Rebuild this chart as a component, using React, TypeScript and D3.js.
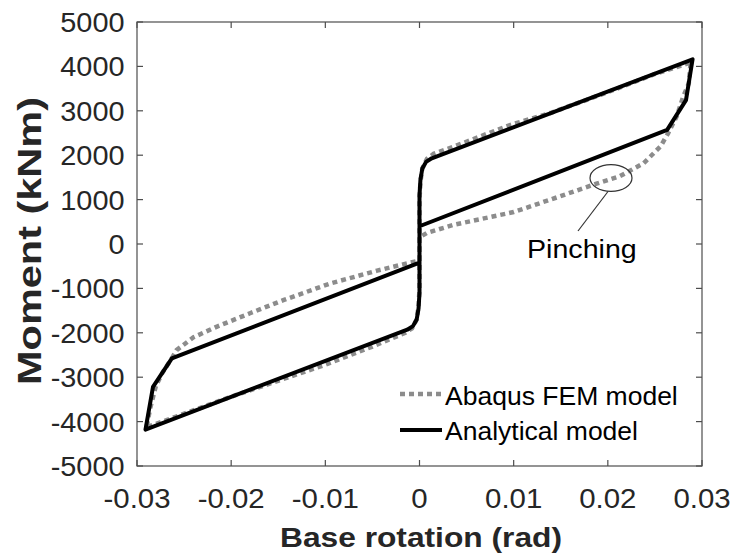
import React from "react";
import * as d3 from "d3";

const analyticalX = [0.0, 0.0, 0.0001, 0.0003, 0.0007, 0.0013, 0.029, 0.0283, 0.0263, 0.0, 0.0, -0.0001, -0.0003, -0.0007, -0.0013, -0.0291, -0.0283, -0.0263, 0.0];
const analyticalY = [-420, 1100, 1450, 1700, 1850, 1930, 4160, 3240, 2570, 400, -1100, -1450, -1700, -1850, -1930, -4180, -3220, -2575, -420];

const abaqusX = [-0.0263, -0.0258, -0.024, -0.0215, -0.018, -0.0144, -0.0095, -0.0045, -0.001, 0.0, 0.0, 0.0001, 0.0003, 0.0008, 0.0015, 0.0036, 0.0096, 0.0139, 0.02, 0.025, 0.0284, 0.0288, 0.0286, 0.028, 0.0273, 0.0264, 0.0256, 0.0238, 0.0213, 0.0188, 0.0146, 0.01, 0.0036, 0.0008, 0.0, 0.0, -0.0001, -0.0003, -0.0008, -0.0015, -0.005, -0.01, -0.02, -0.0285, -0.029, -0.0286, -0.028, -0.0273, -0.0263];
const abaqusY = [-2575, -2390, -2100, -1860, -1560, -1260, -890, -600, -420, -370, 1000, 1400, 1700, 1920, 2030, 2190, 2680, 2950, 3420, 3830, 4060, 4120, 3620, 3318, 2867, 2493, 2200, 1818, 1530, 1360, 1050, 720, 430, 250, 150, -1000, -1400, -1700, -1900, -2000, -2310, -2720, -3440, -4090, -4150, -3700, -3200, -2900, -2575];

const xTicks = [-0.03, -0.02, -0.01, 0, 0.01, 0.02, 0.03];
const xTickLabels = ["-0.03", "-0.02", "-0.01", "0", "0.01", "0.02", "0.03"];
const yTicks = [-5000, -4000, -3000, -2000, -1000, 0, 1000, 2000, 3000, 4000, 5000];
const yTickLabels = ["-5000", "-4000", "-3000", "-2000", "-1000", "0", "1000", "2000", "3000", "4000", "5000"];
const legendLabels = ["Abaqus FEM model", "Analytical model"];

const W = 731, H = 557;
const L = 137, R = 702, T = 22, B = 466;
const FONT = "'Liberation Sans', Arial, sans-serif";

function SText(props: { x: number; y: number; anchor?: string; sx?: number; size: number; bold?: boolean; fill?: string; children: any }) {
  const { x, y, anchor = "start", sx = 1, size, bold, fill = "#000", children } = props;
  return (
    <text transform={`translate(${x},${y}) scale(${sx},1)`} textAnchor={anchor} fontSize={size} fontWeight={bold ? "bold" : "normal"} fill={fill}>
      {children}
    </text>
  );
}

export default function App() {
  const x = d3.scaleLinear().domain([-0.03, 0.03]).range([L, R]);
  const y = d3.scaleLinear().domain([-5000, 5000]).range([B, T]);
  const line = d3.line<[number, number]>().x(d => x(d[0])).y(d => y(d[1]));
  const analytical = analyticalX.map((v, i) => [v, analyticalY[i]] as [number, number]);
  const abaqus = abaqusX.map((v, i) => [v, abaqusY[i]] as [number, number]);
  const tl = 6;
  const axisColor = "#4d4d4d";
  const tickColor = "#262626";
  return (
    <svg width={W} height={H} style={{ position: "absolute", left: 0, top: 0, background: "#fff" }} fontFamily={FONT}>
      <rect x={0} y={0} width={W} height={H} fill="#fff" />
      <path d={line(abaqus) || ""} fill="none" stroke="#8c8c8c" strokeWidth={4.5} strokeDasharray="5,4" />
      <path d={line(analytical) || ""} fill="none" stroke="#000" strokeWidth={4} strokeLinejoin="round" />
      <rect x={L} y={T} width={R - L} height={B - T} fill="none" stroke={axisColor} strokeWidth={1.2} />
      {xTicks.map((t, i) => (
        <g key={"xt" + i}>
          <line x1={x(t)} x2={x(t)} y1={B} y2={B - tl} stroke={axisColor} strokeWidth={1.2} />
          <line x1={x(t)} x2={x(t)} y1={T} y2={T + tl} stroke={axisColor} strokeWidth={1.2} />
          <SText x={x(t)} y={508} anchor="middle" size={27.5} sx={1.07} fill={tickColor}>{xTickLabels[i]}</SText>
        </g>
      ))}
      {yTicks.map((t, i) => (
        <g key={"yt" + i}>
          <line x1={L} x2={L + tl} y1={y(t)} y2={y(t)} stroke={axisColor} strokeWidth={1.2} />
          <line x1={R} x2={R - tl} y1={y(t)} y2={y(t)} stroke={axisColor} strokeWidth={1.2} />
          <SText x={124.5} y={y(t) + 10} anchor="end" size={27.5} sx={1.05} fill={tickColor}>{yTickLabels[i]}</SText>
        </g>
      ))}
      <text x={421} y={547} textAnchor="middle" fontSize={28} fontWeight="bold" fill={tickColor} textLength={282} lengthAdjust="spacingAndGlyphs">Base rotation (rad)</text>
      <text transform={`translate(41,241) rotate(-90)`} textAnchor="middle" fontSize={34} fontWeight="bold" fill={tickColor} textLength={288} lengthAdjust="spacingAndGlyphs">Moment (kNm)</text>
      <ellipse cx={611} cy={178} rx={21} ry={13.3} fill="none" stroke="#333" strokeWidth={1.2} />
      <line x1={608} y1={191.5} x2={578} y2={231} stroke="#333" strokeWidth={1.2} />
      <SText x={527} y={258} size={26} sx={1.1}>Pinching</SText>
      <line x1={400} x2={441} y1={394} y2={394} stroke="#8c8c8c" strokeWidth={4.5} strokeDasharray="5,4" />
      <SText x={445} y={405} size={25.5} sx={1.04}>{legendLabels[0]}</SText>
      <line x1={400} x2={442} y1={430} y2={430} stroke="#000" strokeWidth={4} />
      <SText x={445} y={440} size={25.5} sx={1.04}>{legendLabels[1]}</SText>
    </svg>
  );
}
